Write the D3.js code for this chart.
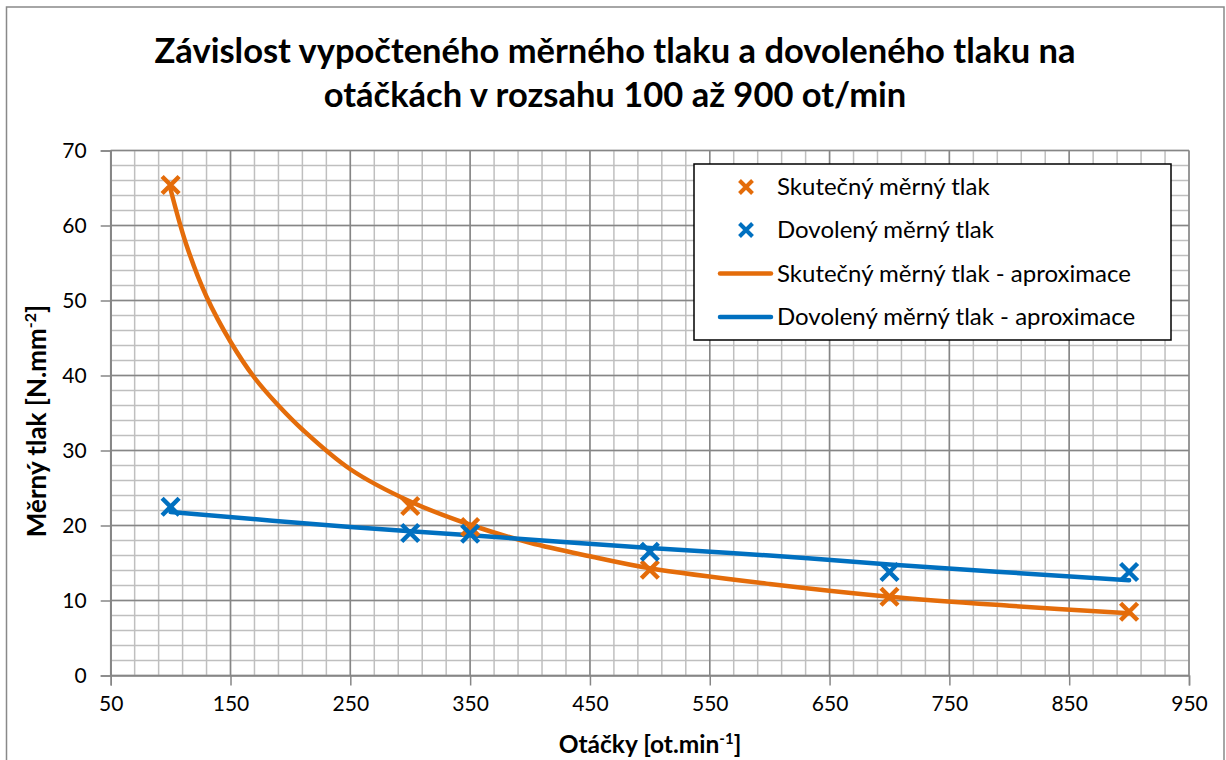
<!DOCTYPE html>
<html><head><meta charset="utf-8">
<script src="https://cdn.jsdelivr.net/npm/d3@7"></script>
<style>body{margin:0;background:#fff}svg{display:block}</style>
</head><body>
<svg id="c" width="1226" height="760"></svg>
<script>
// ---- data ----
const titleLines = ["Závislost vypočteného měrného tlaku a dovoleného tlaku na", "otáčkách v rozsahu 100 až 900 ot/min"];
const xTicks = [50,150,250,350,450,550,650,750,850,950];
const yTicks = [0,10,20,30,40,50,60,70];
const measX = [100,300,350,500,700,900];
const skutecny = [65.4,22.6,19.8,14.1,10.5,8.5];
const dovoleny = [22.5,19.0,18.9,16.5,13.8,13.8];
const skutTrendX = [100,113,130,150,170,190,210,250,300,350,400,450,500,600,700,800,900];
const skutTrendY = [64.8,57.5,50.5,44.5,39.7,36.0,32.8,27.5,23.2,20.1,17.7,15.9,14.3,12.2,10.5,9.3,8.3];
const dovTrendX = [100,250,350,500,600,700,900];
const dovTrendY = [21.8,19.8,18.7,17.0,16.0,14.8,12.7];
const legendLabels = ["Skutečný měrný tlak","Dovolený měrný tlak","Skutečný měrný tlak - aproximace","Dovolený měrný tlak - aproximace"];
const xTitle = "Otáčky [ot.min";
const yTitle = "Měrný tlak [N.mm";

const ORANGE = "#E46C0A", BLUE = "#0070C0";
const FONT = "Lato, 'Open Sans', sans-serif";

const svg = d3.select("#c");
svg.append("rect").attr("x",6.5).attr("y",7).attr("width",1217.5).attr("height",760)
  .attr("fill","#fff").attr("stroke","#898989").attr("stroke-width",1.5);

const L=110.7, R=1189, T=150.5, B=675.5;
const x = d3.scaleLinear().domain([50,950]).range([L,R]);
const y = d3.scaleLinear().domain([0,70]).range([B,T]);

// title
svg.append("g").selectAll("text").data(titleLines).join("text")
  .attr("x",615).attr("y",(d,i)=>63+i*44).attr("text-anchor","middle")
  .attr("font-family",FONT).attr("font-weight","bold").attr("font-size",34.5).attr("fill","#000").text(d=>d);

// minor grid
const g = svg.append("g");
g.selectAll("line.mx").data(d3.range(50,951,20)).join("line")
  .attr("x1",d=>x(d)).attr("x2",d=>x(d)).attr("y1",T).attr("y2",B)
  .attr("stroke","#BFBFBF").attr("stroke-width",1.5);
g.selectAll("line.my").data(d3.range(0,71,2)).join("line")
  .attr("x1",L).attr("x2",R).attr("y1",d=>y(d)).attr("y2",d=>y(d))
  .attr("stroke","#BFBFBF").attr("stroke-width",1.5);
// major grid
g.selectAll("line.Mx").data(xTicks).join("line")
  .attr("x1",d=>x(d)).attr("x2",d=>x(d)).attr("y1",T).attr("y2",B)
  .attr("stroke","#868686").attr("stroke-width",1.5);
g.selectAll("line.My").data(yTicks).join("line")
  .attr("x1",L).attr("x2",R).attr("y1",d=>y(d)).attr("y2",d=>y(d))
  .attr("stroke","#868686").attr("stroke-width",1.5);

// axes
const xa = svg.append("g").attr("transform",`translate(0,${B})`)
  .call(d3.axisBottom(x).tickValues(xTicks).tickSize(10).tickPadding(11).tickFormat(d3.format("d")));
const ya = svg.append("g").attr("transform",`translate(${L},0)`)
  .call(d3.axisLeft(y).tickValues(yTicks).tickSize(10).tickPadding(14).tickFormat(d3.format("d")));
[xa,ya].forEach(a=>{
  a.select(".domain").attr("stroke","#868686").attr("stroke-width",1.5);
  a.selectAll(".tick line").attr("stroke","#868686").attr("stroke-width",1.5);
  a.selectAll(".tick text").attr("font-family",FONT).attr("font-size",21).attr("fill","#000");
});

// axis titles
const xt = svg.append("text").attr("x",650).attr("y",753).attr("text-anchor","middle")
  .attr("font-family",FONT).attr("font-weight","bold").attr("font-size",24.5).attr("fill","#000");
xt.append("tspan").text(xTitle);
xt.append("tspan").attr("dy",-9).attr("font-size",15).text("-1");
xt.append("tspan").attr("dy",9).text("]");
const yt = svg.append("text").attr("transform",`translate(46,${(T+B)/2 + 8}) rotate(-90)`).attr("text-anchor","middle")
  .attr("font-family",FONT).attr("font-weight","bold").attr("font-size",26).attr("fill","#000");
yt.append("tspan").text(yTitle);
yt.append("tspan").attr("dy",-10).attr("font-size",16).text("-2");
yt.append("tspan").attr("dy",10).text("]");

// trend lines
const line = d3.line().x(d=>x(d[0])).y(d=>y(d[1])).curve(d3.curveCatmullRom.alpha(0.5));
svg.append("path").datum(d3.zip(skutTrendX,skutTrendY)).attr("d",line)
  .attr("fill","none").attr("stroke",ORANGE).attr("stroke-width",4.5).attr("stroke-linecap","round");
svg.append("path").datum(d3.zip(dovTrendX,dovTrendY)).attr("d",line)
  .attr("fill","none").attr("stroke",BLUE).attr("stroke-width",4.5).attr("stroke-linecap","round");

// markers
function cross(sel, s){
  sel.append("path").attr("d",`M${-s},${-s}L${s},${s}M${-s},${s}L${s},${-s}`);
}
function markers(vals,color){
  const gg = svg.append("g").attr("stroke",color).attr("stroke-width",4.5).attr("fill","none");
  d3.zip(measX,vals).forEach(d=>{
    const m = gg.append("g").attr("transform",`translate(${x(d[0])},${y(d[1])})`);
    cross(m,8.5);
  });
}
markers(skutecny,ORANGE);
markers(dovoleny,BLUE);

// legend
const lg = svg.append("g");
lg.append("rect").attr("x",694).attr("y",164).attr("width",477).attr("height",176)
  .attr("fill","#fff").attr("stroke","#000").attr("stroke-width",1.5);
const rows=[187,230,273.5,317];
const colors=[ORANGE,BLUE,ORANGE,BLUE];
rows.forEach((ry,i)=>{
  if(i<2){
    const m = lg.append("g").attr("transform",`translate(746,${ry})`).attr("stroke",colors[i]).attr("stroke-width",4).attr("fill","none");
    cross(m,6.5);
  } else {
    lg.append("line").attr("x1",720).attr("x2",771).attr("y1",ry).attr("y2",ry)
      .attr("stroke",colors[i]).attr("stroke-width",4.5).attr("stroke-linecap","round");
  }
  lg.append("text").attr("x",777).attr("y",ry).attr("dy","0.35em")
    .attr("font-family",FONT).attr("font-size",24).attr("fill","#000").text(legendLabels[i]);
});
</script>
</body></html>
